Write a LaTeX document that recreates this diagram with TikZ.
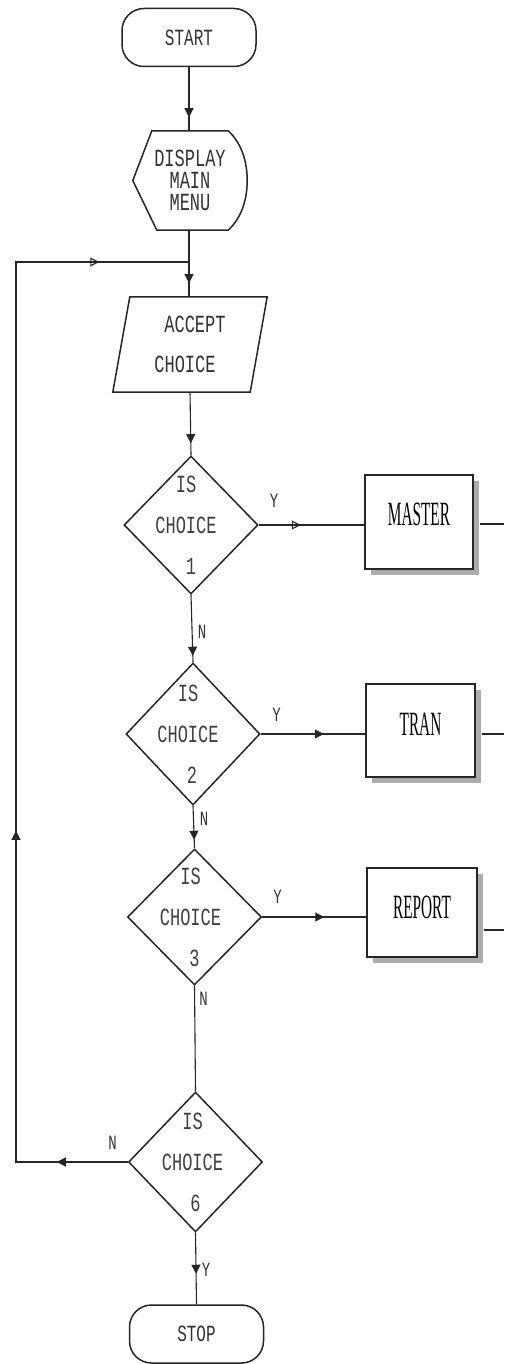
\documentclass[tikz,border=0pt]{standalone}
\usepackage{fontspec}
\newfontfamily\dotf{Liberation Mono}
\newfontfamily\boxf{Liberation Serif}
\usetikzlibrary{shapes.geometric,arrows.meta,decorations.markings,shadows,calc}
\newcommand\dmt[1]{\scalebox{1}[1.45]{#1}}
\newcommand\bxt[1]{\scalebox{0.9}[2]{#1}}
\tikzset{
  shp/.style={draw=black!85, line width=1.5pt},
  con/.style={draw=black!85, line width=1.1pt},
  term/.style={shp, rounded corners=22pt, minimum width=134pt, minimum height=58pt, inner sep=0pt,
    font=\dotf\fontsize{16pt}{20pt}\selectfont, text=black!80},
  dia/.style={shp, diamond, aspect=1, minimum width=134pt, minimum height=138pt, inner sep=0pt},
  dtext/.style={align=center, inner sep=0pt, font=\dotf\fontsize{17pt}{41pt}\selectfont, text=black!75},
  ghost/.style={inner sep=0pt},
  proc/.style={shp, fill=white, inner sep=0pt,
    drop shadow={shadow xshift=6pt, shadow yshift=-6pt, fill=gray!65, opacity=1}},
  ptext/.style={inner sep=0pt, font=\boxf\fontsize{17pt}{20pt}\selectfont, text=black},
  lab/.style={inner sep=0pt, font=\dotf\fontsize{14pt}{18pt}\selectfont, text=black!80},
  midarr/.style={postaction={decorate}, decoration={markings,
    mark=at position #1 with {\arrow{Triangle[length=9pt,width=9pt]}}}},
  openarr/.style={postaction={decorate}, decoration={markings,
    mark=at position #1 with {\arrow{Triangle[open,length=9pt,width=9pt]}}}},
}
\begin{document}
\begin{tikzpicture}[x=1pt,y=-1pt]
\fill[white] (0,0) rectangle (504,1364);
\useasboundingbox (0,0) rectangle (504,1364);

% terminals
\node[term] (start) at (189,37.5) {\dmt{START}};
\node[term] (stop) at (196.5,1334) {\dmt{STOP}};

% display
\node[ghost, minimum width=114pt, minimum height=99pt, align=center,
  font=\dotf\fontsize{17pt}{22pt}\selectfont, text=black!80] (disp) at (190,180.5)
  {\dmt{DISPLAY}\\\dmt{MAIN}\\\dmt{MENU}};
\draw[shp] ($(disp.north west)+(19,0)$) -- ($(disp.north east)+(-19,0)$)
  .. controls ($(disp.north east)+(-4,14)$) and ($(disp.east)+(0,-16)$) .. (disp.east)
  .. controls ($(disp.east)+(0,16)$) and ($(disp.south east)+(-4,-14)$) .. ($(disp.south east)+(-19,0)$)
  -- ($(disp.south west)+(24,0)$) -- (disp.west) -- cycle;

% accept
\node[ghost, minimum width=154pt, minimum height=95pt, align=center,
  font=\dotf\fontsize{17pt}{40pt}\selectfont, text=black!80] (acc) at (190,344.5)
  {\hspace*{10pt}\dmt{ACCEPT}\\\dmt{CHOICE}\hspace*{10pt}};
\draw[shp] ($(acc.north west)+(17,0)$) -- (acc.north east)
  -- ($(acc.south east)+(-17,0)$) -- (acc.south west) -- cycle;

% decisions
\node[dia] (d1) at (191,525) {};
\node[dia, minimum height=142pt] (d2) at (193,734) {};
\node[dia, minimum height=136pt] (d3) at (194.5,917) {};
\node[dia, minimum height=140pt] (d4) at (195.5,1162) {};
\node[dtext] (d1t) at ($(d1)+(-5,0)$) {\dmt{IS}\\\dmt{CHOICE}\\\hspace*{10pt}\dmt{1}};
\node[dtext] (d2t) at ($(d2)+(-5,0)$) {\dmt{IS}\\\dmt{CHOICE}\\\hspace*{8pt}\dmt{2}};
\node[dtext] (d3t) at ($(d3)+(-4,0)$) {\dmt{IS}\\\dmt{CHOICE}\\\hspace*{8pt}\dmt{3}};
\node[dtext] (d4t) at ($(d4)+(-3,0)$) {\dmt{IS}\\\dmt{CHOICE}\\\hspace*{6pt}\dmt{6}};

% processes
\node[proc, minimum width=108pt, minimum height=94pt] (master) at (419,522) {};
\node[proc, minimum width=109pt, minimum height=93pt] (tran) at (420.5,730.5) {};
\node[proc, minimum width=110pt, minimum height=89pt] (report) at (422,912.5) {};
\node[ptext] (mastert) at ($(master)+(0,-7.5)$) {\bxt{MASTER}};
\node[ptext] (trant) at ($(tran)+(0,-6.5)$) {\bxt{TRAN}};
\node[ptext] (reportt) at ($(report)+(0,-5.5)$) {\bxt{REPORT}};

% main column connectors
\draw[con, midarr=50pt] (start.south) -- (start.south |- disp.north);
\draw[con, midarr=53pt] (start.south |- disp.south) -- (start.south |- acc.north);
\draw[con, midarr=51pt] (acc.south) -- (d1.north);
\draw[con, midarr=61pt] (d1.south) -- (d2.north);
\draw[con, midarr=34pt] (d2.south) -- (d3.north);
\draw[con] (d3.south) -- (d4.north);
\draw[con, midarr=41pt] (d4.south) -- (stop.north);

% yes branches
\draw[con, openarr=42pt] (d1.east) -- (d1.east -| master.west);
\draw[con, midarr=63pt] (d2.east) -- (d2.east -| tran.west);
\draw[con, midarr=62pt] (d3.east) -- (d3.east -| report.west);

% right stubs
\coordinate (e1) at (504,524);
\coordinate (e2) at (504,734);
\coordinate (e3) at (504,930);
\draw[con] ($(master.east |- e1)+(6,0)$) -- (e1);
\draw[con] ($(tran.east |- e2)+(6,0)$) -- (e2);
\draw[con] ($(report.east |- e3)+(6,0)$) -- (e3);

% loop back
\coordinate (lb) at (16,1162);
\coordinate (lt) at (16,262);
\coordinate (join) at (189,262);
\draw[con, postaction={decorate}, decoration={markings,
    mark=at position 71pt with {\arrow{Triangle[length=9pt,width=9pt]}},
    mark=at position 443pt with {\arrow{Triangle[length=9pt,width=9pt]}},
    mark=at position 1095pt with {\arrow{Triangle[open,length=9pt,width=9pt]}}}]
  (d4.west) -- (lb) -- (lt) -- (join);

% labels
\node[lab] (y1) at (274,501) {\dmt{Y}};
\node[lab] (n1) at (202,632) {\dmt{N}};
\node[lab] (y2) at (276.5,714.5) {\dmt{Y}};
\node[lab] (n2) at (204,818.5) {\dmt{N}};
\node[lab] (y3) at (277.5,896.5) {\dmt{Y}};
\node[lab] (n3) at (203.5,998.5) {\dmt{N}};
\node[lab] (n4) at (112.5,1142.5) {\dmt{N}};
\node[lab] (y4) at (206,1270) {\dmt{Y}};
\end{tikzpicture}
\end{document}
